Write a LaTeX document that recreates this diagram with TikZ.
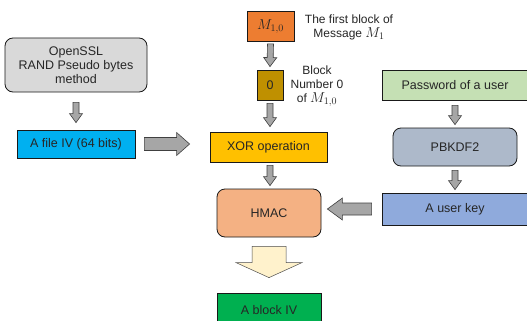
\documentclass[tikz,border=0pt]{standalone}
\usepackage{fontspec}
\setmainfont{Liberation Sans}
\usetikzlibrary{calc}

\definecolor{ink}{HTML}{262626}
\definecolor{msgfill}{HTML}{ED7D31}
\definecolor{zerofill}{HTML}{BF9000}
\definecolor{xorfill}{HTML}{FFC000}
\definecolor{hmacfill}{HTML}{F4B183}
\definecolor{ivfill}{HTML}{00B050}
\definecolor{randfill}{HTML}{D9D9D9}
\definecolor{filefill}{HTML}{00B0F0}
\definecolor{pwfill}{HTML}{C5E0B4}
\definecolor{kdffill}{HTML}{ADB9CA}
\definecolor{keyfill}{HTML}{8FAADC}
\definecolor{arrowfill}{HTML}{A6A6A6}
\definecolor{arrowline}{HTML}{404040}
\definecolor{outfill}{HTML}{FFF2CC}

% Block arrow from #2 to #3: shaft half-width #4, head half-width #5, head length #6
\newcommand\fatarrow[6]{%
  \coordinate (fa-s) at #2;
  \coordinate (fa-e) at #3;
  \coordinate (fa-h) at ($(fa-e)!#6!(fa-s)$);
  \path[#1] ($(fa-s)!#4!90:(fa-e)$) -- ($(fa-h)!#4!-90:(fa-s)$)
    -- ($(fa-h)!#5!-90:(fa-s)$) -- (fa-e)
    -- ($(fa-h)!#5!90:(fa-s)$) -- ($(fa-h)!#4!90:(fa-s)$)
    -- ($(fa-s)!#4!-90:(fa-e)$) -- cycle;
}
% Slightly enlarged math for block names
\newcommand\blockname[1]{{\fontsize{14}{14}\selectfont$#1$}}

\begin{document}
\begin{tikzpicture}[x=1pt,y=-1pt,
  box/.style={draw=black!90, line width=0.8pt, inner sep=0pt, text=ink,
    font=\fontsize{12.5}{14}\selectfont, align=center},
  rbox/.style={box, rounded corners=8pt},
  note/.style={text=ink, font=\fontsize{12}{14}\selectfont, align=center, inner sep=0pt},
  grayarrow/.style={fill=arrowfill, draw=arrowline, line width=0.6pt},
  outarrow/.style={fill=outfill, draw=black!70, line width=0.5pt}]

\useasboundingbox (0,0) rectangle (527,321);
\fill[white] (0,0) rectangle (527,321);

% message block and its index
\node[box, fill=msgfill, minimum width=47pt, minimum height=30pt] (m10) at (270.5,26.5) {\blockname{M_{1,0}}};
\node[note] (mlabel) at (349,27) {The first block of\\Message \blockname{M_1}};
\node[box, fill=zerofill, minimum width=26pt, minimum height=30pt] (blk0) at (270,85) {0};
\node[note] (blklabel) at (317,86) {Block\\Number 0\\of \blockname{M_{1,0}}};

% central column
\node[box, fill=xorfill, minimum width=117pt, minimum height=30pt] (xor) at (268.5,147) {XOR operation};
\node[rbox, fill=hmacfill, minimum width=104pt, minimum height=48pt] (hmac) at (269,213) {HMAC};
\node[box, fill=ivfill, minimum width=104pt, minimum height=34pt] (blockiv) at (269,310) {A block IV};

% left column
\node[rbox, fill=randfill, minimum width=142pt, minimum height=54pt] (rand) at (76,65) {OpenSSL\\RAND Pseudo bytes\\method};
\node[box, fill=filefill, minimum width=118pt, minimum height=28pt] (fileiv) at (76,144) {A file IV (64 bits)};

% right column
\node[box, fill=pwfill, minimum width=146pt, minimum height=30pt] (pwd) at (455,85) {Password of a user};
\node[rbox, fill=kdffill, minimum width=124pt, minimum height=38pt] (kdf) at (455,147) {PBKDF2};
\node[box, fill=keyfill, minimum width=146pt, minimum height=32pt] (ukey) at (455,209) {A user key};

% connectors
\fatarrow{grayarrow}{($(m10.south)+(0,2)$)}{($(blk0.north)+(0,-3)$)}{3pt}{6.5pt}{9pt}
\fatarrow{grayarrow}{($(blk0.south)+(0,3)$)}{($(blk0.south |- xor.north)+(0,-5)$)}{3pt}{6.5pt}{9pt}
\fatarrow{grayarrow}{($(blk0.south |- xor.south)+(0,3)$)}{($(blk0.south |- hmac.north)+(0,-3)$)}{3pt}{6.5pt}{9pt}
\fatarrow{grayarrow}{($(rand.south)+(0,10)$)}{($(fileiv.north)+(0,-7)$)}{3pt}{6.5pt}{9pt}
\fatarrow{grayarrow}{($(pwd.south)+(0,5)$)}{($(kdf.north)+(0,-3)$)}{3pt}{6.5pt}{9pt}
\fatarrow{grayarrow}{($(kdf.south)+(0,4)$)}{($(ukey.north)+(0,-3)$)}{3pt}{6.5pt}{9pt}
\fatarrow{grayarrow}{($(fileiv.east)+(9,0)$)}{($(fileiv.east -| xor.west)+(-20,0)$)}{6.5pt}{11.5pt}{13pt}
\fatarrow{grayarrow}{($(ukey.west)+(-10,0)$)}{($(ukey.west -| hmac.east)+(6,0)$)}{6pt}{11pt}{15pt}
\fatarrow{outarrow}{($(hmac.south)+(0,9)$)}{($(blockiv.north)+(0,-15)$)}{17pt}{33pt}{15pt}
\end{tikzpicture}
\end{document}
